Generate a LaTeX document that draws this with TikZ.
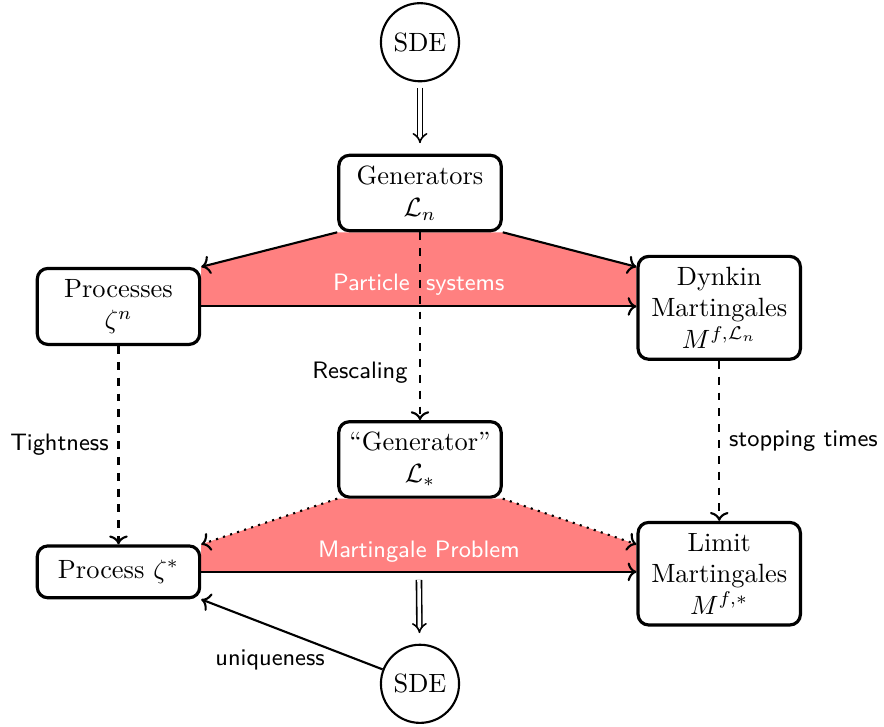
\documentclass[tikz,border=0pt]{standalone}
\usepackage{amsmath}
\usepackage{tikz}
\usetikzlibrary{calc,positioning,arrows.meta,backgrounds,shapes}
\tikzset{
  punkt/.style={
    rectangle,
    rounded corners,
    fill=white,
    draw=black, very thick,
    text width=1.95cm,
    inner xsep=3pt, inner ysep=4pt,
    minimum height=0.69cm,
    text centered},
  sirkel/.style={circle, draw=black, thick, fill=white,
    minimum size=1.04cm, inner sep=1pt},
  line/.style={draw, thick, ->},
  stiplet/.style={line, dashed},
  prikket/.style={line, dotted},
  dobbel/.style={draw, semithick, double, double distance=1.3pt,
    -{Implies[scale=1.3]}, shorten <=2pt, shorten >=4pt},
  tekst/.style={font=\sffamily\small},
  felt/.style={fill=red!50},
}

\begin{document}
\begin{tikzpicture}
  [node distance=1cm]
  \useasboundingbox (-5.59,-7.094) rectangle (6.176,2.569);
  \node (gen) [punkt] {Generators\\ $\mathcal{L}_n$};
  \node (sde) [sirkel, above=0.95cm of gen] {SDE};
  \node (proc) [punkt, below left=0.46cm and 1.81cm of gen] {Processes\\ $\zeta^n$};
  \node (dyn) [punkt, below right=0.30cm and 1.78cm of gen]
    {Dynkin\\ Martingales\\ $M^{f,\mathcal{L}_n}$};
  \node (genlim) [punkt, below=2.50cm of gen] {``Generator''\\ $\mathcal{L}_*$};
  \node (proclim) [punkt, below=2.64cm of proc] {Process $\zeta^*$};
  \node (mlim) [punkt, below=2.13cm of dyn] {Limit\\ Martingales\\ $M^{f,*}$};
  \node (sdelim) [sirkel, below=1.93cm of genlim] {SDE};
  % the two shaded fans behind the arrows
  \begin{scope}[on background layer]
    \fill[felt] (gen.south west) -- (proc.north east) -- (proc.east)
      -- (proc.east -| dyn.west) -- (dyn.west |- proc.north east)
      -- (gen.south east) -- cycle;
    \fill[felt] (genlim.south west) -- (proclim.north east) -- (proclim.east)
      -- (proclim.east -| mlim.west) -- (mlim.west |- proclim.north east)
      -- (genlim.south east) -- cycle;
  \end{scope}
  \draw[line] (gen.south west) -- (proc.north east);
  \draw[line] (gen.south east) -- (dyn.west |- proc.north east);
  \draw[line] (proc.east) -- (proc.east -| dyn.west)
    node[tekst, white, midway, above=0.5pt] {Particle~~systems};
  \draw[prikket] (genlim.south west) -- (proclim.north east);
  \draw[prikket] (genlim.south east) -- (mlim.west |- proclim.north east);
  \draw[line] (proclim.east) -- (proclim.east -| mlim.west)
    node[tekst, white, midway, above=0pt] {Martingale Problem};
  %% vertical limits
  \draw[stiplet] (gen) -- (genlim) node[tekst, pos=0.75, left=1pt] {Rescaling};
  \draw[stiplet] (proc) -- (proclim) node[tekst, midway, left=0pt] {Tightness};
  \draw[stiplet] (dyn) -- (mlim) node[tekst, midway, right=0pt] {stopping times};
  %% SDE connections
  \coordinate (mp) at ($(proclim.east)!0.5!(proclim.east -| mlim.west)$);
  \draw[dobbel] (sde) -- (gen);
  \draw[dobbel, shorten <=3pt] (mp) -- (sdelim);
  \draw[line] (sdelim) -- (proclim.south east)
    node[tekst, pos=0.62, below=0.18cm] {uniqueness};
\end{tikzpicture}
\end{document}
